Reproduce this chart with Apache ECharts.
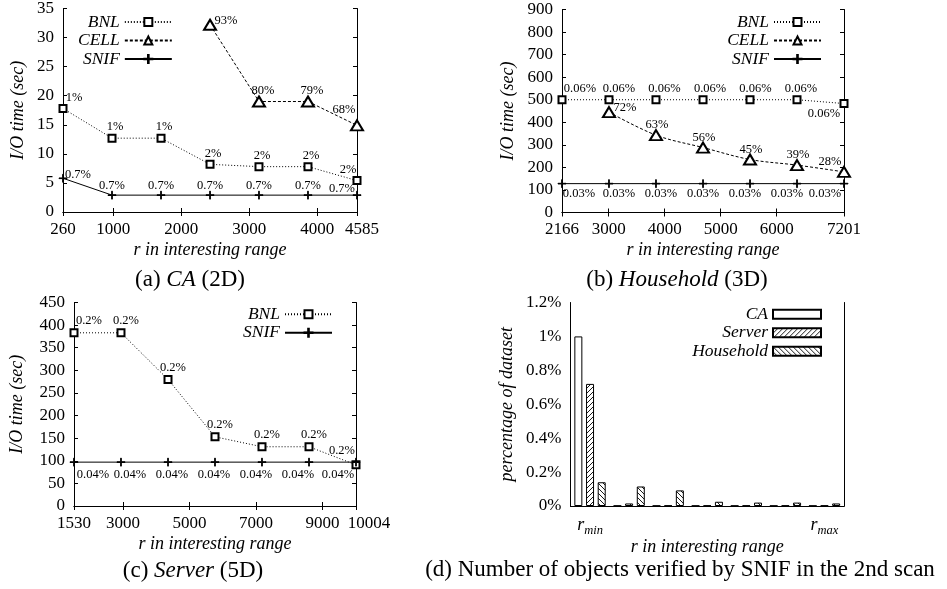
<!DOCTYPE html>
<html><head><meta charset="utf-8">
<script src="https://cdn.jsdelivr.net/npm/echarts@6/dist/echarts.min.js"></script>
<style>html,body{margin:0;padding:0;background:#fff}#c{width:947px;height:589px}</style>
</head><body><div id="c"></div>
<script>
// ---------------- data ----------------
const rA = [260, 981, 1702, 2423, 3143, 3864, 4585];
const ticksA = [260, 1000, 2000, 3000, 4000, 4585];
const bnlA = [17.8, 12.7, 12.7, 8.2, 7.8, 7.8, 5.4];
const cellA = [null, null, null, 32.2, 19.0, 19.0, 14.9];
const snifA = [5.8, 2.9, 2.9, 2.9, 2.9, 2.9, 2.9];
const bnlLabA = ['1%', '1%', '1%', '2%', '2%', '2%', '2%'];
const cellLabA = [null, null, null, '93%', '80%', '79%', '68%'];
const snifLabA = ['0.7%', '0.7%', '0.7%', '0.7%', '0.7%', '0.7%', '0.7%'];

const rB = [2166, 3005, 3844, 4684, 5523, 6362, 7201];
const ticksB = [2166, 3000, 4000, 5000, 6000, 7201];
const bnlB = [500, 500, 500, 500, 500, 500, 483];
const cellB = [null, 445, 343, 288, 235, 210, 180];
const snifB = [128, 128, 128, 128, 128, 128, 128];
const bnlLabB = ['0.06%', '0.06%', '0.06%', '0.06%', '0.06%', '0.06%', '0.06%'];
const cellLabB = [null, '72%', '63%', '56%', '45%', '39%', '28%'];
const snifLabB = ['0.03%', '0.03%', '0.03%', '0.03%', '0.03%', '0.03%', '0.03%'];

const rC = [1530, 2942, 4355, 5767, 7179, 8592, 10004];
const ticksC = [1530, 3000, 5000, 7000, 9000, 10004];
const bnlC = [383, 383, 280, 153, 131, 131, 91];
const snifC = [97, 97, 97, 97, 97, 97, 97];
const bnlLabC = ['0.2%', '0.2%', '0.2%', '0.2%', '0.2%', '0.2%', '0.2%'];
const snifLabC = ['0.04%', '0.04%', '0.04%', '0.04%', '0.04%', '0.04%', '0.04%'];

const catD = ['rmin', 'r2', 'r3', 'r4', 'r5', 'r6', 'rmax'];
const caD = [1.0, 0.002, 0.002, 0.002, 0.002, 0.002, 0.002];
const serverD = [0.72, 0.015, 0.003, 0.003, 0.003, 0.003, 0.003];
const householdD = [0.14, 0.115, 0.092, 0.025, 0.02, 0.02, 0.015];

// ---------------- style ----------------
const FONT = '"Liberation Serif", "Times New Roman", serif';
const BLACK = '#000';
const PLUS = 'path://M4.6,0H5.4V4.6H10V5.4H5.4V10H4.6V5.4H0V4.6H4.6Z';

function pts(xs, ys, labels, place) {
  const idx = [];
  ys.forEach((y, i) => { if (y != null) idx.push(i); });
  return idx.map((i, k) => {
    let off;
    if (k === 0) off = place.first;
    else if (k === idx.length - 1) off = place.last;
    else off = typeof place.mid === 'function' ? place.mid(k) : place.mid;
    return { value: [xs[i], ys[i]], label: { show: true, position: 'inside', offset: off, formatter: labels[i] } };
  });
}
const STY = {
  BNL: { symbol: 'emptyRect', symbolSize: 7, lineType: [1, 2] },
  CELL: { symbol: 'emptyTriangle', symbolSize: [12, 10], lineType: [3, 2] },
  SNIF: { symbol: PLUS, symbolSize: 8, lineType: 'solid' }
};
function lineSeries(name, g, data, extra) {
  const s = STY[name];
  return Object.assign({
    type: 'line', name, xAxisIndex: 2 * g, yAxisIndex: 2 * g, data,
    symbol: s.symbol, symbolSize: s.symbolSize, showAllSymbol: true,
    lineStyle: { color: BLACK, width: 1, type: s.lineType },
    itemStyle: { color: BLACK, borderColor: BLACK, borderWidth: 1 },
    label: { color: BLACK, fontFamily: FONT, fontSize: 12.5 },
    emphasis: { disabled: true }, animation: false
  }, extra || {});
}

const xAxes = [], yAxes = [];
const tickStyle = { inside: true, length: 4, lineStyle: { color: BLACK } };
const nameStyle = { fontFamily: FONT, fontSize: 18, fontStyle: 'italic', color: BLACK };
const lblStyle = { color: BLACK, fontFamily: FONT, fontSize: 17, margin: 9 };
function addValueX(g, min, max, ticks, name, lastPad) {
  const fmt = v => (v === max && lastPad ? '{p|' + v + '}' : String(v));
  const base = {
    type: 'value', gridIndex: g, min, max,
    axisLine: { lineStyle: { color: BLACK } },
    splitLine: { show: false }
  };
  xAxes.push(Object.assign({}, base, {
    position: 'bottom',
    axisTick: Object.assign({ customValues: ticks }, tickStyle),
    axisLabel: Object.assign({ customValues: ticks, formatter: fmt, rich: { p: { padding: [0, 0, 0, lastPad || 0], fontFamily: FONT, fontSize: 17, color: BLACK } } }, lblStyle),
    name, nameLocation: 'middle', nameGap: 29, nameTextStyle: nameStyle
  }));
  xAxes.push(Object.assign({}, base, {
    position: 'top',
    axisTick: Object.assign({ customValues: ticks }, tickStyle),
    axisLabel: { show: false }
  }));
}
function addValueY(g, min, max, interval, name, gap, fmt) {
  const base = {
    type: 'value', gridIndex: g, min, max, interval,
    axisLine: { show: true, lineStyle: { color: BLACK } },
    splitLine: { show: false }
  };
  yAxes.push(Object.assign({}, base, {
    position: 'left', axisTick: tickStyle,
    axisLabel: Object.assign({ formatter: fmt }, lblStyle),
    name, nameLocation: 'middle', nameRotate: 90, nameGap: gap, nameTextStyle: nameStyle
  }));
  yAxes.push(Object.assign({}, base, {
    position: 'right', axisTick: tickStyle, axisLabel: { show: false }
  }));
}

const RNAME = 'r in interesting range';
const YNAME = 'I/O time (sec)';
addValueX(0, 260, 4585, ticksA, RNAME, 10);
addValueY(0, 0, 35, 5, YNAME, 36);
addValueX(1, 2166, 7201, ticksB, RNAME, 0);
addValueY(1, 0, 900, 100, YNAME, 45);
addValueX(2, 1530, 10004, ticksC, RNAME, 26);
addValueY(2, 0, 450, 50, YNAME, 48);

// panel d category axes
const catLbl = (v, i) => (i === 0 ? '{r|r}{s|min}' : (i === catD.length - 1 ? '{r|r}{s|max}' : ''));
const dBase = {
  type: 'category', gridIndex: 3, data: catD, boundaryGap: true,
  axisLine: { lineStyle: { color: BLACK } },
  axisTick: Object.assign({ alignWithLabel: true, interval: 0 }, tickStyle)
};
xAxes.push(Object.assign({}, dBase, {
  position: 'bottom',
  axisLabel: {
    interval: 0, margin: 8, formatter: catLbl, color: BLACK,
    rich: {
      r: { fontFamily: FONT, fontSize: 18, fontStyle: 'italic', color: BLACK },
      s: { fontFamily: FONT, fontSize: 12.5, fontStyle: 'italic', color: BLACK, padding: [10, 0, 0, 0] }
    }
  },
  name: RNAME, nameLocation: 'middle', nameGap: 31, nameTextStyle: nameStyle
}));
xAxes.push(Object.assign({}, dBase, { position: 'top', axisLabel: { show: false } }));
addValueY(3, 0, 1.2, 0.2, 'percentage of dataset', 54, v => (Math.round(v * 10) / 10) + '%');

// hatch patterns
function hatch(dir) {
  const s = 5, c = document.createElement('canvas');
  c.width = s; c.height = s;
  const g = c.getContext('2d');
  g.fillStyle = '#fff'; g.fillRect(0, 0, s, s);
  g.strokeStyle = '#000'; g.lineWidth = 0.9;
  g.beginPath();
  if (dir > 0) {
    g.moveTo(0, s); g.lineTo(s, 0);
    g.moveTo(-1, 1); g.lineTo(1, -1);
    g.moveTo(s - 1, s + 1); g.lineTo(s + 1, s - 1);
  } else {
    g.moveTo(0, 0); g.lineTo(s, s);
    g.moveTo(-1, s - 1); g.lineTo(1, s + 1);
    g.moveTo(s - 1, -1); g.lineTo(s + 1, 1);
  }
  g.stroke();
  return c;
}
function barSeries(name, data, fill) {
  return {
    type: 'bar', name, xAxisIndex: 6, yAxisIndex: 6, data,
    barWidth: 8, barGap: '46%',
    itemStyle: { color: fill, borderColor: BLACK, borderWidth: 1 },
    emphasis: { disabled: true }, animation: false
  };
}

const series = [
  lineSeries('BNL', 0, pts(rA, bnlA, bnlLabA, { first: [11, -11], mid: [3, -11], last: [-9, -11] })),
  lineSeries('CELL', 0, pts(rA, cellA, cellLabA, { first: [16, -4], mid: [4, -11], last: [-13, -16] })),
  lineSeries('SNIF', 0, pts(rA, snifA, snifLabA, { first: [15, -4], mid: [0, -9], last: [-15, -6] })),
  lineSeries('BNL', 1, pts(rB, bnlB, bnlLabB, { first: [18, -11], mid: k => [11.5 - 1.5 * k, -11], last: [-20, 10] })),
  lineSeries('CELL', 1, pts(rB, cellB, cellLabB, { first: [16, -4], mid: [1, -10], last: [-14, -10] }), { smooth: 0.35 }),
  lineSeries('SNIF', 1, pts(rB, snifB, snifLabB, { first: [17, 10], mid: k => [15 - 5 * k, 10], last: [-19, 10] })),
  lineSeries('BNL', 2, pts(rC, bnlC, bnlLabC, { first: [15, -12], mid: [5, -12], last: [-14, -14] })),
  lineSeries('SNIF', 2, pts(rC, snifC, snifLabC, { first: [19, 13], mid: k => [14 - 5 * k, 13], last: [-18, 13] })),
  barSeries('CA', caD, '#fff'),
  barSeries('Server', serverD, { image: hatch(1), repeat: 'repeat' }),
  barSeries('Household', householdD, { image: hatch(-1), repeat: 'repeat' })
];

const legText = { fontFamily: FONT, fontSize: 17.5, fontStyle: 'italic', color: BLACK, lineHeight: 18.5 };
const legBase = { orient: 'vertical', align: 'right', itemWidth: 47, itemHeight: 10, itemGap: 0, padding: 0, textStyle: legText, selectedMode: false };
const legends = [
  Object.assign({}, legBase, { left: 78, top: 12.7, data: ['BNL', 'CELL', 'SNIF'] }),
  Object.assign({}, legBase, { right: 125, top: 12.7, data: ['BNL', 'CELL', 'SNIF'] }),
  Object.assign({}, legBase, { right: 614, top: 305, data: ['BNL', 'SNIF'] }),
  Object.assign({}, legBase, { right: 125, top: 305, itemWidth: 48, itemHeight: 9, icon: 'rect', data: ['CA', 'Server', 'Household'] })
];

function caption(x, y, text) {
  return {
    type: 'text', x, y, silent: true,
    style: {
      text, align: 'center', verticalAlign: 'middle', fill: BLACK,
      font: '23px ' + FONT,
      rich: {
        n: { fontFamily: FONT, fontSize: 23, fill: BLACK },
        i: { fontFamily: FONT, fontSize: 23, fontStyle: 'italic', fill: BLACK }
      }
    }
  };
}

const chart = echarts.init(document.getElementById('c'), null, { renderer: 'canvas' });
chart.setOption({
  backgroundColor: '#fff',
  animation: false,
  grid: [
    { left: 63, top: 8, width: 294, height: 204 },
    { left: 562, top: 9.5, width: 282, height: 203 },
    { left: 74, top: 302.5, width: 282, height: 203.5 },
    { left: 570.5, top: 302.5, width: 273.5, height: 203.5 }
  ],
  xAxis: xAxes,
  yAxis: yAxes,
  legend: legends,
  series,
  graphic: [
    caption(190, 280, '{n|(a) }{i|CA}{n| (2D)}'),
    caption(677, 280, '{n|(b) }{i|Household}{n| (3D)}'),
    caption(193, 571, '{n|(c) }{i|Server}{n| (5D)}'),
    caption(680, 570, '{n|(d) Number of objects verified by SNIF in the 2nd scan}')
  ]
});
</script></body></html>
